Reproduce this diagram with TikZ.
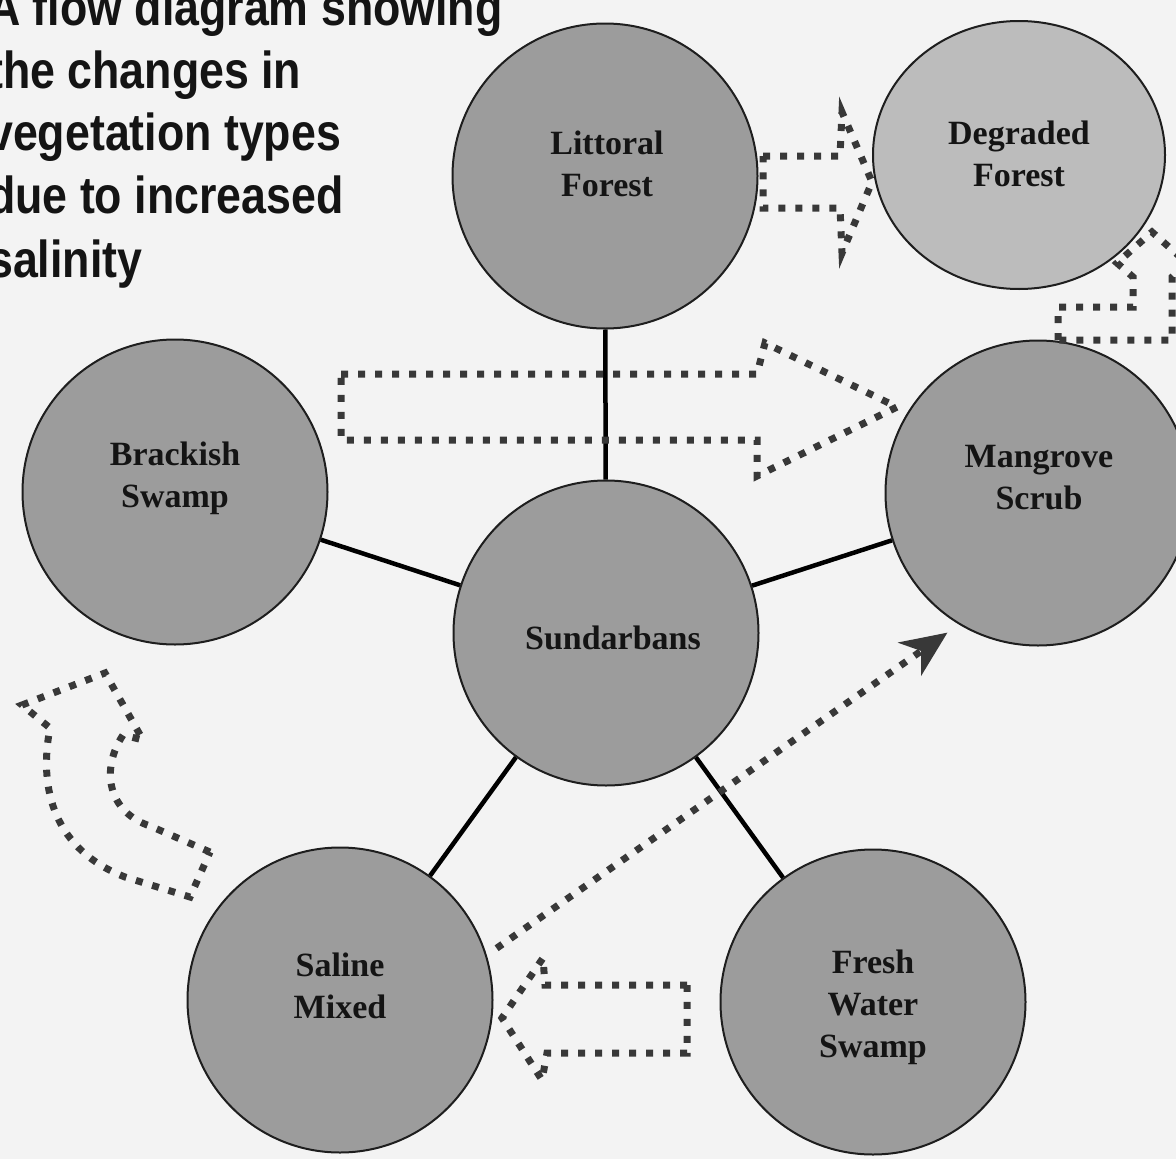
\documentclass[tikz,border=0pt]{standalone}
\usepackage{fontspec}
\setmainfont{Liberation Serif}
\newfontfamily\headfont[FakeStretch=0.86]{Liberation Sans}
\usetikzlibrary{arrows.meta,shapes.geometric}
\definecolor{paper}{HTML}{F3F3F3}
\definecolor{discc}{HTML}{9C9C9C}
\definecolor{palec}{HTML}{BCBCBC}
\definecolor{rimc}{HTML}{1E1E1E}
\definecolor{dotc}{HTML}{383838}
\definecolor{inkc}{HTML}{141414}
\tikzset{
  disc/.style={circle, draw=rimc, line width=2pt, fill=discc,
    minimum size=305pt, inner sep=0pt},
  paledisc/.style={ellipse, draw=rimc, line width=2pt, fill=palec,
    minimum width=292pt, minimum height=268pt, inner sep=0pt},
  lbl/.style={font=\fontsize{34}{42}\selectfont\bfseries, text=inkc,
    align=center, inner sep=0pt},
  headline/.style={font=\headfont\fontsize{52}{63}\selectfont\bfseries,
    text=inkc, anchor=base west, inner sep=0pt},
  link/.style={draw=black, line width=4.5pt},
  dotline/.style={draw=dotc, line width=7pt, dash pattern=on 7pt off 10pt,
    line join=miter},
}
\begin{document}
\begin{tikzpicture}[x=1pt, y=-1pt]
  \useasboundingbox (0,0) rectangle (1176,1159);
  \clip (0,0) rectangle (1176,1159);
  \fill[paper] (0,0) rectangle (1176,1159);

  % heading
  \node[headline] (h1) at (-12,25)  {A flow diagram showing};
  \node[headline] (h2) at (-12,88)  {the changes in};
  \node[headline] (h3) at (-12,150) {vegetation types};
  \node[headline] (h4) at (-12,213) {due to increased};
  \node[headline] (h5) at (-12,277) {salinity};

  % vegetation discs
  \node[disc]     (lit) at (605,176)  {};
  \node[paledisc] (deg) at (1019,155) {};
  \node[disc]     (bra) at (175,492)  {};
  \node[disc]     (sun) at (606,633)  {};
  \node[disc]     (man) at (1038,493) {};
  \node[disc]     (sal) at (340,1000) {};
  \node[disc]     (fre) at (873,1002) {};

  % spokes from the centre
  \draw[link] (sun) -- (lit);
  \draw[link] (sun) -- (bra);
  \draw[link] (sun) -- (man);
  \draw[link] (sun) -- (sal);
  \draw[link] (sun) -- (fre);

  % labels
  \node[lbl] (llit) at (607,164)  {Littoral\\Forest};
  \node[lbl] (ldeg) at (1019,154) {Degraded\\Forest};
  \node[lbl] (lbra) at (175,478)  {Brackish\\Swamp};
  \node[lbl] (lsun) at (613,638)  {Sundarbans};
  \node[lbl] (lman) at (1039,478) {Mangrove\\Scrub};
  \node[lbl] (lsal) at (340,986)  {Saline\\Mixed};
  \node[lbl] (lfre) at (873,1007) {Fresh\\Water\\Swamp};

  % littoral -> degraded
  \draw[dotline] (763,156) -- (840,156) -- (842,112) -- (872,182)
    -- (842,253) -- (840,208) -- (763,208) -- cycle;

  % brackish -> mangrove
  \draw[dotline] (341,374) -- (757,374) -- (765,343) -- (897,407)
    -- (757,476) -- (757,440) -- (341,440) -- cycle;

  % mangrove -> degraded, bent upwards
  \draw[dotline] (1058,340) -- (1058,307) -- (1133,307) -- (1133,277)
    -- (1117,263) -- (1152,232) -- (1187,263) -- (1172,277)
    -- (1172,340) -- cycle;

  % fresh water -> saline
  \draw[dotline] (687,985) -- (545,985) -- (543,958) -- (502,1018)
    -- (542,1080) -- (547,1053) -- (687,1053) -- cycle;

  % saline -> brackish, curved
  \draw[dotline] (210,852) -- (150,826)
    .. controls (108,812) and (100,770) .. (123,735)
    -- (143,740) -- (105,673) -- (22,705) -- (50,728)
    .. controls (38,790) and (55,850) .. (125,877)
    -- (190,897) -- cycle;

  % saline -> mangrove
  \draw[dotline, shorten <=12pt, shorten >=14pt,
    -{Stealth[length=46pt, width=40pt, inset=14pt]}] (sal.17) -- (man.239);
\end{tikzpicture}
\end{document}
